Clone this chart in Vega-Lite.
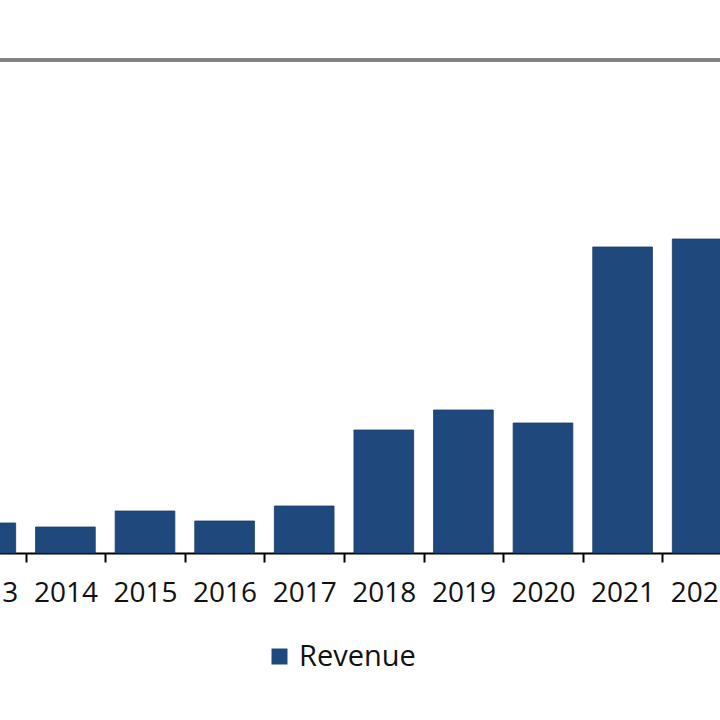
{
  "$schema": "https://vega.github.io/schema/vega-lite/v6.json",
  "autosize": {"type": "none"},
  "padding": {"left": -54, "top": 60, "right": -22, "bottom": 167},
  "width": 796,
  "height": 493,
  "background": "white",
  "config": {"view": {"stroke": null}, "font": "Open Sans"},
  "data": {
    "values": [
      {"year": "2013", "revenue": 30},
      {"year": "2014", "revenue": 26},
      {"year": "2015", "revenue": 42},
      {"year": "2016", "revenue": 32},
      {"year": "2017", "revenue": 47},
      {"year": "2018", "revenue": 123},
      {"year": "2019", "revenue": 143},
      {"year": "2020", "revenue": 130},
      {"year": "2021", "revenue": 306},
      {"year": "2022", "revenue": 314}
    ]
  },
  "layer": [
    {
      "mark": {"type": "bar", "stroke": "#183c68", "strokeWidth": 0.8},
      "encoding": {
        "x": {
          "field": "year",
          "type": "nominal",
          "scale": {"paddingInner": 0.25, "paddingOuter": 0.125},
          "axis": {
            "title": null,
            "labelAngle": 0,
            "tickOffset": -39.8,
            "labelOffset": 39.8,
            "domainColor": "#000000",
            "domainWidth": 2,
            "tickColor": "#000000",
            "tickWidth": 2,
            "tickSize": 9,
            "labelColor": "#111111",
            "labelFontSize": 28,
            "labelFont": "Open Sans",
            "labelPadding": 17
          }
        },
        "y": {
          "field": "revenue",
          "type": "quantitative",
          "scale": {"domain": [0, 493], "nice": false},
          "axis": null
        },
        "color": {
          "datum": "Revenue",
          "scale": {"range": ["#1F497D"]},
          "legend": {
            "title": null,
            "orient": "none",
            "legendX": 319,
            "legendY": 582,
            "symbolType": "square",
            "symbolSize": 256,
            "symbolStrokeWidth": 0,
            "labelFontSize": 29,
            "labelFont": "Open Sans",
            "labelColor": "#111111",
            "labelOffset": 5
          }
        }
      }
    },
    {
      "mark": {"type": "rule", "color": "#808080", "strokeWidth": 2.5},
      "encoding": {"y": {"datum": 493, "type": "quantitative"}}
    }
  ]
}
